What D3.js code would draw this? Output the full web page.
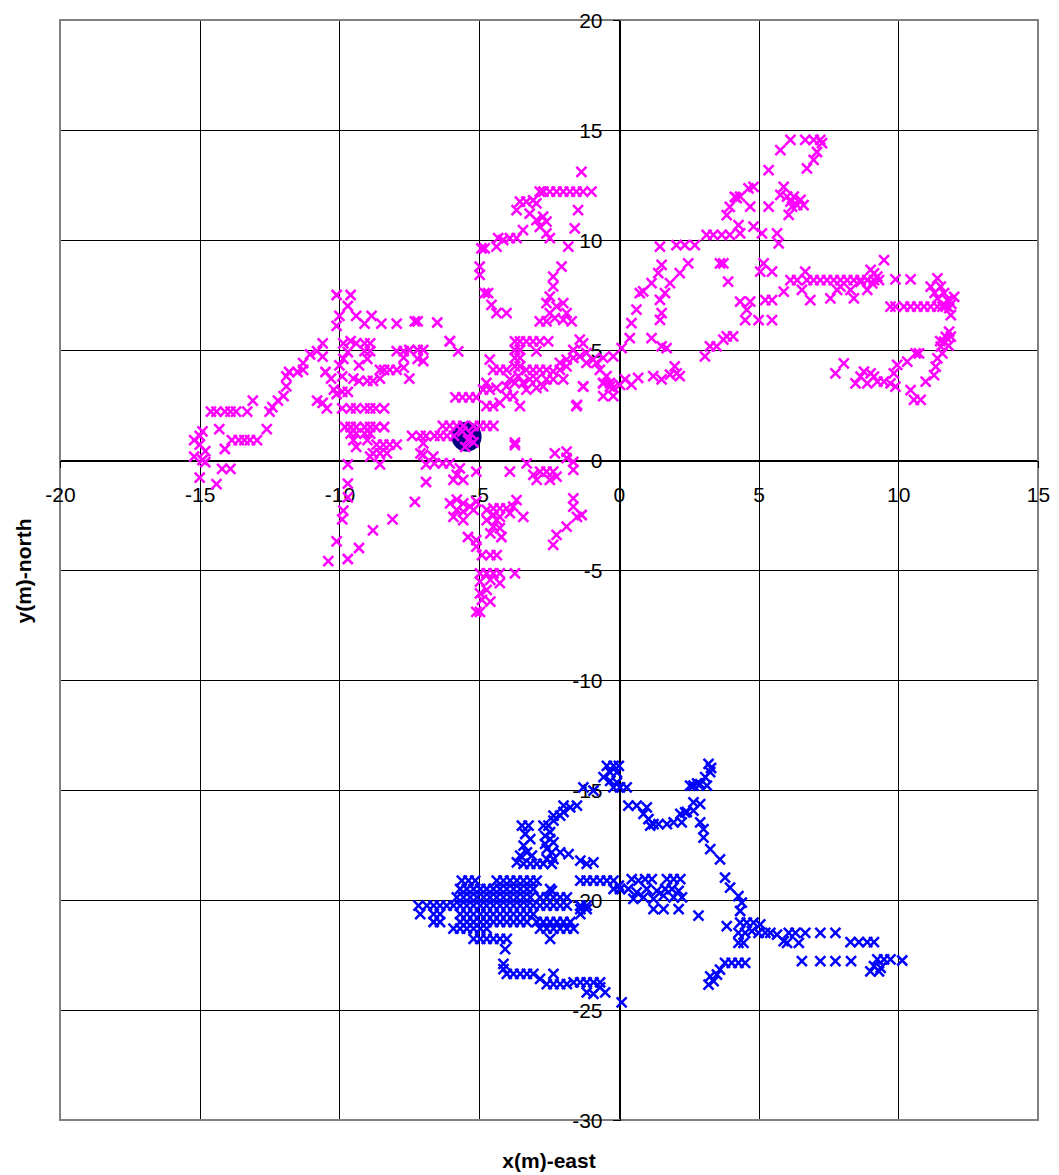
<!DOCTYPE html>
<html>
<head>
<meta charset="utf-8">
<script src="https://cdn.jsdelivr.net/npm/d3@7/dist/d3.min.js"></script>
<style>
  html, body { margin: 0; padding: 0; background: #fff; }
  svg { display: block; }
  text { font-family: "Liberation Sans", Arial, sans-serif; }
</style>
</head>
<body>
<svg id="chart" width="1059" height="1175"></svg>
<script>
// ---------- data ----------
const xTicks = [-20, -15, -10, -5, 0, 5, 10, 15];
const yTicks = [-30, -25, -20, -15, -10, -5, 0, 5, 10, 15, 20];
const xTitle = "x(m)-east";
const yTitle = "y(m)-north";

// reference / start position
const refPoint = [[-5.45, 1.06]];

// track 1 (magenta)
const trackMagenta = [
  [-15.2,0.9],[-15.0,1.1],[-14.9,1.3],[-15.0,0.7],[-14.8,0.4],[-15.2,0.15],[-14.9,0],[-14.8,-0.1],[-15.0,-0.8],[-14.4,-1.1],[-14.3,1.4],[-14.1,0.5],[-14.2,-0.4],[-13.9,-0.4],
  [-14.6,2.2],[-14.4,2.2],[-14.1,2.2],[-13.9,2.2],[-13.7,2.2],[-13.3,2.2],[-13.1,2.7],
  [-13.85,0.9],[-13.6,0.9],[-13.4,0.9],[-13.2,0.9],[-12.95,0.9],[-12.6,1.4],
  [-12.5,2.2],[-12.4,2.4],[-12.2,2.7],[-12.0,2.9],[-11.9,3.35],[-11.9,3.8],[-11.8,4.0],[-11.5,4.0],[-11.3,4.1],[-11.3,4.4],[-11.05,4.8],[-10.8,4.95],[-10.6,5.3],[-10.6,4.7],
  [-10.8,2.7],[-10.6,2.6],[-10.45,2.35],[-10.5,4.0],[-10.3,3.7],[-10.2,3.2],[-10.1,3.0],[-9.9,3.1],[-9.7,3.1],[-9.9,3.8],[-10.0,4.3],[-9.86,4.6],[-9.7,4.9],[-9.86,5.3],[-9.6,5.4],[-9.4,5.3],[-9.1,5.3],[-8.9,5.3],[-9.1,4.95],[-8.9,4.95],[-9.0,4.6],[-9.3,4.3],[-9.5,3.7],[-9.3,3.6],[-9.0,3.6],[-8.8,3.6],[-8.55,3.7],[-8.55,4.1],[-8.4,4.1],[-8.2,4.1],[-7.95,4.1],[-7.7,4.2],[-7.5,3.7],[-7.95,4.95],[-7.7,4.95],[-7.5,5.0],[-7.2,5.0],[-7.0,5.0],[-7.0,4.5],[-7.2,4.6],[-7.7,4.65],
  [-10.1,7.5],[-9.6,7.5],[-9.7,7.0],[-10.0,6.55],[-10.1,6.1],[-9.4,6.55],[-9.1,6.2],[-8.85,6.55],[-8.5,6.2],[-7.95,6.2],[-7.3,6.3],[-7.2,6.3],[-6.5,6.25],[-6.05,5.4],
  [-9.9,2.35],[-9.6,2.35],[-9.4,2.35],[-9.1,2.35],[-8.9,2.35],[-8.7,2.35],[-8.4,2.35],
  [-9.8,1.5],[-9.6,1.5],[-9.4,1.5],[-9.1,1.5],[-8.9,1.5],[-8.7,1.5],[-8.4,1.5],
  [-9.6,1.2],[-9.4,1.2],[-9.1,1.2],[-8.9,1.2],[-9.5,0.9],[-9.0,0.9],[-9.4,0.6],
  [-8.67,0.7],[-8.43,0.7],[-8.2,0.7],[-7.95,0.7],[-8.8,0.3],[-8.55,0.3],[-8.3,0.3],[-8.55,-0.2],[-8.9,0.15],
  [-9.7,-0.2],[-9.7,-1.07],[-9.7,-1.7],[-9.86,-2.3],[-9.9,-2.7],[-10.1,-3.7],[-10.4,-4.6],[-9.7,-4.5],[-9.3,-4.0],[-8.8,-3.2],[-8.1,-2.7],[-7.3,-1.9],[-6.9,-1.0],
  [-7.4,1.1],[-7.1,1.1],[-6.9,1.1],[-6.6,1.1],[-6.4,1.1],[-6.15,1.1],[-5.9,1.1],
  [-7.0,0.76],[-7.1,0.3],[-6.9,-0.2],[-6.6,-0.15],[-6.3,-0.15],[-6.05,-0.15],
  [-6.3,1.55],[-6.05,1.55],[-5.8,1.55],[-5.57,1.55],[-5.2,1.55],[-4.97,1.55],[-4.73,1.55],[-4.49,1.55],
  [-5.85,2.85],[-5.6,2.85],[-5.35,2.85],[-5.1,2.85],
  [-5.6,1.3],[-5.3,1.2],[-5.4,0.9],[-5.2,0.8],[-5.5,0.6],
  [-6.64,0.15],[-5.69,-0.38],[-5.8,-0.68],[-5.92,-0.9],[-5.57,-0.9],[-5.1,-0.53],[-7.0,0.23],
  [-6.04,-1.97],[-5.8,-1.8],[-5.57,-1.97],[-5.33,-2.12],[-5.1,-1.89],[-5.8,-2.27],[-5.57,-2.35],[-5.2,-2.27],[-5.92,-2.58],[-5.57,-2.73],[-5.4,-3.5],[-5.1,-3.64],[-5.1,-3.94],[-4.9,-4.32],[-4.6,-4.32],[-4.37,-4.32],[-4.97,-5.15],[-4.73,-5.15],[-4.49,-5.15],[-4.26,-5.15],[-3.72,-5.15],[-4.97,-5.53],[-4.6,-5.45],[-4.26,-5.6],[-4.97,-6.06],[-4.73,-5.9],[-4.6,-6.44],[-4.9,-6.36],[-5.1,-6.9],[-4.97,-6.9],
  [-4.73,-2.27],[-4.49,-2.2],[-4.26,-2.2],[-4.02,-2.2],[-4.49,-2.5],[-4.26,-2.58],[-3.9,-2.42],[-3.66,-1.82],[-3.78,-2.12],[-3.42,-2.58],[-4.73,-2.73],[-4.49,-3.03],[-4.26,-3.1],[-4.6,-3.33],[-4.2,-3.5],[-4.37,-2.73],
  [-3.9,-0.53],[-3.72,0.68],[-3.3,-0.15],[-3.06,-0.68],[-2.94,-0.9],[-2.82,-0.53],[-2.59,-0.53],[-2.35,-0.53],[-2.47,-0.9],[-2.23,-0.76],[-2.29,0.3],[-1.87,0.38],[-1.63,-0.08],[-1.63,-0.45],[-1.87,0.08],[-1.5,2.5],[-1.27,3.33],[-0.56,3.48],[-0.32,3.33],[0.04,3.41],
  [-1.63,-1.74],[-1.63,-2.12],[-1.5,-2.58],[-1.33,-2.5],[-1.87,-3.03],[-2.23,-3.4],[-2.35,-3.86],
  [-2.7,12.2],[-2.47,12.2],[-2.23,12.2],[-1.99,12.2],[-1.75,12.2],[-1.52,12.2],[-1.28,12.2],[-0.98,12.2],[-1.34,13.1],[-1.46,11.36],[-1.58,10.53],[-1.81,9.7],
  [-3.54,11.74],[-3.66,11.36],[-3.31,11.74],[-3.07,11.8],[-2.95,11.66],[-2.83,12.2],[-3.19,11.2],[-2.95,10.9],[-2.71,11.06],[-2.59,10.83],[-2.83,10.6],[-2.59,10.3],[-2.47,10.08],[-3.43,10.45],[-3.66,10.08],[-3.9,10.08],[-4.14,10],[-4.38,9.7],[-4.32,10.08],[-4.8,9.62],[-4.92,9.62],
  [-4.98,8.79],[-4.98,8.41],[-4.8,7.58],[-4.68,7.58],[-4.56,7.05],[-4.38,6.68],[-4.02,6.68],
  [-2.05,8.79],[-2.35,8.34],[-2.35,7.89],[-2.47,7.43],[-2.59,7.13],[-2.23,6.98],[-1.99,7.13],[-1.87,6.68],[-2.47,6.68],[-2.83,6.3],[-2.59,6.3],[-2.29,6.45],[-1.99,6.37],[-1.69,6.3],
  [-6.05,5.39],[-5.75,4.94],[-4.62,4.56],[-4.5,4.1],[-4.26,4.1],[-4.74,3.5],[-4.86,3.2],[-4.62,3.2],[-4.38,3.28],
  [-4.74,2.45],[-4.5,2.45],[-4.26,2.6],[-4.02,2.9],[-3.78,2.9],[-3.54,2.45],[-3.72,0.79],
  [-3.72,5.39],[-3.54,5.39],[-3.72,5.0],[-3.54,5.0],[-3.72,4.64],[-3.54,4.64],[-3.72,4.26],[-3.54,4.26],[-3.6,3.81],[-3.72,3.5],[-3.43,3.5],
  [-3.31,5.39],[-3.07,5.39],[-2.83,5.39],[-2.53,5.39],[-2.95,4.94],
  [-4.02,4.1],[-3.9,3.66],[-4.02,3.35],[-3.31,4.1],[-3.07,4.1],[-2.83,4.1],[-2.59,4.1],[-3.19,3.66],[-2.95,3.66],[-3.31,3.2],[-2.95,3.28],[-2.59,3.66],[-2.35,4.03],[-2.11,4.1],[-1.87,4.26],[-2.11,4.41],[-1.87,4.56],[-1.63,4.64],[-1.4,4.71],[-1.63,5.0],[-1.4,5.47],[-1.28,5.3],[-1.16,4.86],[-0.92,4.56],[-1.16,4.41],[-0.8,4.41],[-0.56,4.64],[-0.2,4.71],[-0.68,4.1],[-0.44,3.81],[-0.56,3.5],[-0.32,3.5],[-0.2,3.28],[-0.56,2.9],[-0.2,2.9],[-1.99,3.66],[-1.28,3.35],[-1.52,2.45],[-2.35,3.66],[-2.71,3.35],
  [0.1,5.09],[0.39,5.54],[0.45,6.22],[0.63,6.83],[0.75,7.58],[0.87,7.66],[1.17,8.04],[1.41,8.49],[1.53,8.87],[1.47,9.7],[2.06,9.77],[2.36,9.77],[2.72,9.77],[1.47,7.28],[1.53,6.68],[1.47,6.37],[1.65,7.58],[1.83,8.04],[2.18,8.49],[2.48,8.94],[1.17,5.54],[1.53,5.17],[1.71,5.09],[0.22,3.66],[0.45,3.43],[0.69,3.73],[1.23,3.81],[1.53,3.66],[1.83,3.88],[2.0,4.26],[2.18,3.81],[2.07,3.94],
  [3.08,4.71],[3.26,5.17],[3.5,5.17],[3.74,5.47],[3.86,5.62],[4.09,5.62],[3.14,10.23],[3.38,10.23],[3.68,10.23],[3.97,10.23],[3.62,8.94],[3.74,8.94],[3.91,8.11],[3.86,11.13],[3.97,11.51],[4.15,11.96],
  [6.14,14.55],[6.67,14.55],[6.97,14.55],[7.21,14.55],[7.27,14.4],[7.09,14.0],[6.97,13.64],[6.73,13.26],[5.78,14.09],[5.36,13.18],
  [4.82,12.42],[4.64,12.35],[4.34,11.97],[4.22,11.9],[4.7,11.52],[5.36,11.52],[5.9,12.42],[5.78,12.05],[6.02,11.97],[6.26,11.97],[6.5,11.82],[6.14,11.74],[6.38,11.59],[6.61,11.59],[6.08,11.14],[6.2,11.52],
  [4.82,10.61],[5.12,10.3],[4.28,10.68],[4.34,10.3],[5.66,10.3],[5.72,9.85],
  [5.18,8.94],[5.06,8.56],[5.48,8.56],[4.34,7.2],[4.7,7.2],[4.58,6.82],[4.52,6.36],[5.0,6.36],[5.24,7.27],[5.48,7.27],[5.48,6.36],[5.9,7.65],[6.14,8.18],[6.38,8.18],[6.67,8.56],[6.55,7.73],[6.85,7.27],
  [6.73,8.18],[6.97,8.18],[7.21,8.18],[7.45,8.18],[7.69,8.18],[7.93,8.18],[8.17,8.18],[8.41,8.18],[8.65,8.18],[8.89,8.18],[9.13,8.18],[9.31,8.18],
  [9.01,8.64],[9.13,8.48],[9.25,8.33],[9.49,9.09],[9.07,8.03],[8.89,7.73],[7.93,7.88],[7.81,7.73],[8.29,7.73],[8.41,7.35],[7.57,7.35],[8.65,8.1],
  [9.9,8.21],[10.44,8.21],
  [9.72,6.97],[9.9,6.97],[10.2,6.97],[10.44,6.97],[10.68,6.97],[10.92,6.97],[11.16,6.97],[11.4,6.97],[11.58,6.97],
  [11.16,7.88],[11.4,8.26],[11.52,7.88],[11.64,7.58],[11.4,7.35],[11.76,7.27],[12.0,7.42],[11.82,6.9],[11.88,6.59],[11.3,7.6],[11.7,7.0],[11.9,7.1],
  [11.82,5.83],[11.88,5.61],[11.64,5.38],[11.52,5.15],[11.58,4.85],[11.4,4.62],[11.34,4.24],[11.28,3.86],[10.98,3.56],[11.7,5.6],[11.8,5.2],[11.5,5.4],
  [10.74,4.85],[10.62,4.85],[10.32,4.47],[9.96,4.32],[9.84,3.94],[10.44,3.18],[10.56,2.73],[10.8,2.73],[9.9,3.33],[9.72,3.48],[9.49,3.56],[9.25,3.56],[9.13,3.79],[9.01,3.94],[8.77,4.02],[8.65,3.79],[8.47,3.48],[8.89,3.48],[8.05,4.39],[7.75,3.94]
];

// track 2 (blue)
const trackBlue = [
  [-0.43,-13.9],[-0.19,-13.9],[0,-13.9],[-0.31,-14.2],[-0.07,-14.2],[-0.55,-14.42],[-0.31,-14.58],[-0.07,-14.65],[-0.19,-14.88],[0.04,-14.88],[0.28,-14.88],[-1.27,-14.88],[-0.91,-15.03],
  [-1.5,-15.71],[-1.74,-15.79],[-1.98,-15.71],[-1.98,-16.0],[-2.1,-16.17],[-2.34,-16.17],[-2.34,-16.39],[-2.52,-16.62],[-2.7,-16.62],[-2.46,-16.92],[-2.64,-17.08],[-2.46,-17.23],[-2.34,-17.38],[-2.64,-17.45],[-2.58,-17.68],[-2.4,-17.83],[-2.58,-18.14],[-2.34,-18.14],[-2.1,-17.83],[-1.8,-17.91],[-1.38,-18.21],[-1.15,-18.36],[-0.91,-18.29],
  [-3.47,-16.62],[-3.23,-16.62],[-3.35,-17.0],[-3.17,-17.23],[-3.41,-17.53],[-3.29,-17.83],[-3.53,-17.98],[-3.11,-17.98],[-3.65,-18.29],[-3.41,-18.36],[-3.17,-18.36],[-2.94,-18.36],[-2.7,-18.36],[-2.4,-18.36],
  [-1.38,-19.12],[-1.15,-19.12],[-0.91,-19.12],[-0.67,-19.12],[-0.43,-19.12],[-0.19,-19.12],[0,-19.35],[0.04,-19.5],[-0.19,-19.5],
  [0.46,-19.05],[0.7,-19.12],[0.94,-19.05],[1.18,-19.05],[1.72,-19.05],[1.96,-19.05],[2.2,-19.05],[0.34,-19.5],[0.64,-19.65],[1.0,-19.5],[1.36,-19.58],[1.66,-19.5],[1.9,-19.5],[2.14,-19.58],[0.52,-19.95],[0.88,-19.88],[1.24,-19.95],[1.6,-19.8],[1.96,-19.88],[2.26,-19.88],[1.24,-20.41],[1.6,-20.41],[2.14,-20.41],[2.85,-20.71],
  [-5.62,-19.12],[-5.38,-19.12],[-5.14,-19.12],[-4.37,-19.12],[-4.13,-19.12],[-3.89,-19.12],[-3.65,-19.12],[-3.41,-19.12],[-3.17,-19.12],[-2.94,-19.12],
  [-5.68,-19.5],[-5.44,-19.5],[-5.2,-19.5],[-4.96,-19.5],[-4.73,-19.5],[-4.49,-19.5],[-4.25,-19.5],[-4.01,-19.5],[-3.77,-19.5],[-3.53,-19.5],[-3.29,-19.5],[-3.06,-19.5],[-2.46,-19.5],
  [-5.8,-19.88],[-5.56,-19.88],[-5.32,-19.88],[-5.08,-19.88],[-4.84,-19.88],[-4.61,-19.88],[-4.37,-19.88],[-4.13,-19.88],[-3.89,-19.88],[-3.65,-19.88],[-3.41,-19.88],[-3.17,-19.88],[-2.82,-19.88],[-2.58,-19.88],[-2.34,-19.88],[-2.1,-19.88],[-1.86,-19.88],
  [-7.17,-20.26],[-6.87,-20.26],[-6.63,-20.26],[-6.4,-20.26],[-6.16,-20.26],[-5.92,-20.26],[-5.68,-20.26],[-5.44,-20.26],[-5.2,-20.26],[-4.96,-20.26],[-4.73,-20.26],[-4.49,-20.26],[-4.25,-20.26],[-4.01,-20.26],[-3.77,-20.26],[-3.53,-20.26],[-3.29,-20.26],[-3.06,-20.26],[-2.82,-20.26],[-2.58,-20.26],[-2.34,-20.26],[-2.1,-20.26],[-1.86,-20.26],[-1.38,-20.26],[-1.15,-20.26],
  [-7.11,-20.64],[-6.63,-20.64],[-6.4,-20.64],[-5.68,-20.64],[-5.44,-20.64],[-5.2,-20.64],[-4.96,-20.64],[-4.73,-20.64],[-4.49,-20.64],[-4.25,-20.64],[-4.01,-20.64],[-3.77,-20.64],[-3.53,-20.64],[-3.29,-20.64],[-3.06,-20.64],[-1.38,-20.64],
  [-6.63,-21.0],[-6.4,-21.0],[-5.68,-21.0],[-5.44,-21.0],[-5.2,-21.0],[-4.96,-21.0],[-4.73,-21.0],[-4.49,-21.0],[-4.25,-21.0],[-4.01,-21.0],[-3.77,-21.0],[-3.53,-21.0],[-3.29,-21.0],[-2.94,-21.0],[-2.7,-21.0],[-2.46,-21.0],[-2.22,-21.0],[-1.98,-21.0],[-1.74,-21.0],
  [-5.92,-21.3],[-5.68,-21.3],[-5.44,-21.3],[-5.2,-21.3],[-4.96,-21.3],[-4.73,-21.3],[-2.82,-21.3],[-2.58,-21.3],[-2.34,-21.3],[-2.1,-21.3],[-1.86,-21.3],[-1.62,-21.3],
  [-5.2,-21.77],[-4.96,-21.77],[-4.73,-21.77],[-4.49,-21.77],[-4.25,-21.77],[-4.01,-21.77],[-2.46,-21.77],
  [-4.07,-22.23],[-2.4,-19.58],[-1.38,-20.41],[-1.15,-20.41],
  [-4.13,-22.9],[-4.13,-23.14],[-4.01,-23.36],[-3.77,-23.36],[-3.53,-23.36],[-3.29,-23.36],[-3.06,-23.36],[-2.82,-23.59],[-2.34,-23.36],[-2.58,-23.82],[-2.34,-23.82],[-2.1,-23.82],[-1.86,-23.82],[-1.62,-23.74],[-1.38,-23.74],[-1.15,-23.74],[-0.91,-23.74],[-0.67,-23.74],[-1.15,-24.2],[-0.91,-24.27],[-0.67,-23.97],[-0.49,-24.2],[0.1,-24.65],
  [3.21,-13.81],[3.27,-14.19],[3.09,-14.42],[2.91,-14.73],[2.67,-14.8],[2.55,-14.8],[3.15,-14.8],[3.3,-14.0],[2.8,-14.7],
  [2.91,-15.64],[2.67,-15.94],[2.43,-16.0],[2.2,-16.09],[1.96,-16.47],[1.72,-16.55],[1.42,-16.55],[1.24,-16.55],[1.06,-16.32],[0.88,-16.09],[1.0,-15.79],[0.64,-15.71],[0.34,-15.71],[1.12,-16.62],
  [2.67,-15.56],[2.37,-16.02],[2.25,-16.47],[2.91,-16.47],[3.03,-16.78],[3.03,-17.16],[3.27,-17.69],[3.62,-18.15],[3.8,-18.98],[3.98,-19.44],[4.28,-19.82],[4.4,-20.12],[4.34,-20.5],[3.86,-21.19],
  [4.34,-21.03],[4.58,-21.03],[4.82,-21.03],[5.06,-21.11],[4.28,-21.49],[4.52,-21.49],[4.76,-21.41],[5.0,-21.49],[5.24,-21.49],[4.28,-21.95],[4.46,-21.95],[5.42,-21.49],[5.66,-21.57],[5.9,-21.87],[6.08,-21.49],[6.32,-21.49],[6.67,-21.49],[6.02,-21.95],[6.44,-21.95],[7.21,-21.49],[7.75,-21.49],[8.29,-21.92],[8.59,-21.92],[8.89,-21.92],[9.13,-21.92],
  [6.55,-22.78],[7.21,-22.78],[7.75,-22.78],[8.31,-22.78],
  [9.25,-22.7],[9.49,-22.7],[9.72,-22.7],[9.13,-23.01],[9.37,-23.09],[9.0,-23.24],[9.31,-23.24],[10.14,-22.75],
  [3.27,-23.47],[3.39,-23.69],[3.21,-23.85],[3.51,-23.39],[3.62,-23.16],[3.8,-22.86],[4.04,-22.86],[4.28,-22.86],[4.52,-22.86]
];

// ---------- chart ----------
const svg = d3.select("#chart");
const x = d3.scaleLinear().domain([-20, 15]).range([60, 1038]);
const y = d3.scaleLinear().domain([-30, 20]).range([1120, 20]);

svg.append("rect").attr("width", 1059).attr("height", 1175).attr("fill", "#fff");

// gridlines
const grid = svg.append("g").attr("shape-rendering", "crispEdges");
grid.selectAll("line.v").data(xTicks).join("line")
  .attr("x1", d => Math.round(x(d)) + 0.5).attr("x2", d => Math.round(x(d)) + 0.5)
  .attr("y1", y(20)).attr("y2", y(-30))
  .attr("stroke", "#000").attr("stroke-width", 1);
grid.selectAll("line.h").data(yTicks).join("line")
  .attr("y1", d => Math.round(y(d)) + 0.5).attr("y2", d => Math.round(y(d)) + 0.5)
  .attr("x1", x(-20)).attr("x2", x(15))
  .attr("stroke", "#000").attr("stroke-width", 1);

// plot border
svg.append("rect")
  .attr("x", x(-20)).attr("y", y(20))
  .attr("width", x(15) - x(-20)).attr("height", y(-30) - y(20))
  .attr("fill", "none").attr("stroke", "#808080").attr("stroke-width", 2);

// axes crossing at 0
const fontSize = 21;
const xAxis = d3.axisBottom(x).tickValues(xTicks).tickSize(7).tickSizeOuter(0).tickPadding(20).tickFormat(d3.format("d"));
const yAxis = d3.axisLeft(y).tickValues(yTicks).tickSize(7).tickSizeOuter(0).tickPadding(10).tickFormat(d3.format("d"));

const gx = svg.append("g").attr("transform", `translate(0,${Math.round(y(0)) + 0.5})`).call(xAxis);
const gy = svg.append("g").attr("transform", `translate(${Math.round(x(0)) + 0.5},0)`).call(yAxis);
[gx, gy].forEach(g => {
  g.attr("font-family", "'Liberation Sans', Arial, sans-serif").attr("font-size", fontSize);
  g.selectAll("path.domain").attr("stroke", "#000").attr("stroke-width", 1).attr("shape-rendering", "crispEdges");
  g.selectAll(".tick line").attr("stroke", "#000").attr("shape-rendering", "crispEdges");
  g.selectAll(".tick text").attr("fill", "#000");
});
gx.selectAll(".tick text").text(d => d3.format("d")(d).replace("\u2212", "-"));
gy.selectAll(".tick text").text(d => d3.format("d")(d).replace("\u2212", "-")).attr("dy", "0.35em");

// markers
const crossPath = "M-5,-5L5,5M-5,5L5,-5";

svg.append("g").selectAll("circle").data(refPoint).join("circle")
  .attr("cx", d => x(d[0])).attr("cy", d => y(d[1])).attr("r", 15)
  .attr("fill", "#000080");

svg.append("g").selectAll("path").data(trackMagenta).join("path")
  .attr("transform", d => `translate(${x(d[0])},${y(d[1])})`)
  .attr("d", crossPath).attr("stroke", "#FF00FF").attr("stroke-width", 2.5).attr("fill", "none");

svg.append("g").selectAll("path").data(trackBlue).join("path")
  .attr("transform", d => `translate(${x(d[0])},${y(d[1])})`)
  .attr("d", crossPath).attr("stroke", "#0000FF").attr("stroke-width", 2.5).attr("fill", "none");

// axis titles
svg.append("text").attr("x", 549).attr("y", 1168).attr("text-anchor", "middle")
  .attr("font-size", fontSize).attr("font-weight", "bold").text(xTitle);
svg.append("text").attr("transform", "translate(31,571) rotate(-90)").attr("text-anchor", "middle")
  .attr("font-size", fontSize).attr("font-weight", "bold").text(yTitle);
</script>
</body>
</html>
